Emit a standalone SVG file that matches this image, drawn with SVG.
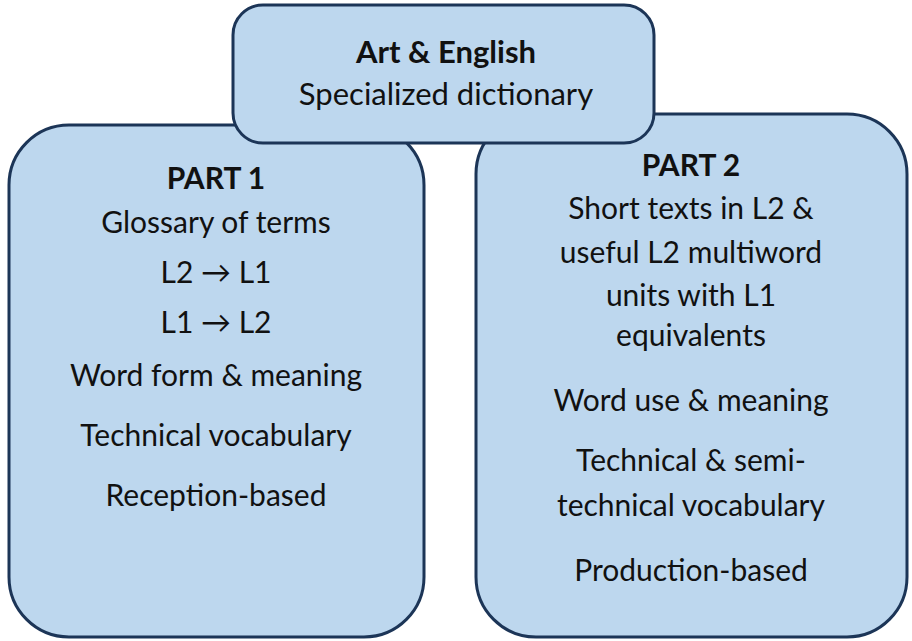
<svg xmlns="http://www.w3.org/2000/svg" width="912" height="641" viewBox="0 0 912 641">
<style>
.box{fill:#bdd7ee;stroke:#1c3557;stroke-width:3}
text{font-family:Lato,"Open Sans","Liberation Sans",sans-serif;font-size:30px;fill:#111;text-anchor:middle}
.b{font-weight:bold}
.t{font-size:31px}
</style>
<rect width="912" height="641" fill="#fff"/>
<g id="part1">
<rect class="box" x="9" y="125" width="415" height="512" rx="60" ry="60"/>
<text class="b" x="216" y="189">PART 1</text>
<text x="216" y="233">Glossary of terms</text>
<text x="216" y="283">L2 → L1</text>
<text x="216" y="333">L1 → L2</text>
<text x="216" y="386">Word form &amp; meaning</text>
<text x="216" y="446">Technical vocabulary</text>
<text x="216" y="506">Reception-based</text>
</g>
<g id="part2">
<rect class="box" x="476" y="114" width="431" height="523" rx="60" ry="60"/>
<text class="b" x="691" y="176">PART 2</text>
<text x="691" y="219">Short texts in L2 &amp;</text>
<text x="691" y="263">useful L2 multiword</text>
<text x="691" y="306">units with L1</text>
<text x="691" y="346">equivalents</text>
<text x="691" y="411">Word use &amp; meaning</text>
<text x="691" y="471">Technical &amp; semi-</text>
<text x="691" y="516">technical vocabulary</text>
<text x="691" y="581">Production-based</text>
</g>
<g id="top">
<rect class="box" x="233" y="5" width="421" height="138" rx="30" ry="30"/>
<text class="b t" x="446" y="63">Art &amp; English</text>
<text class="t" x="446" y="105">Specialized dictionary</text>
</g>
<g id="connectors"/>
</svg>
